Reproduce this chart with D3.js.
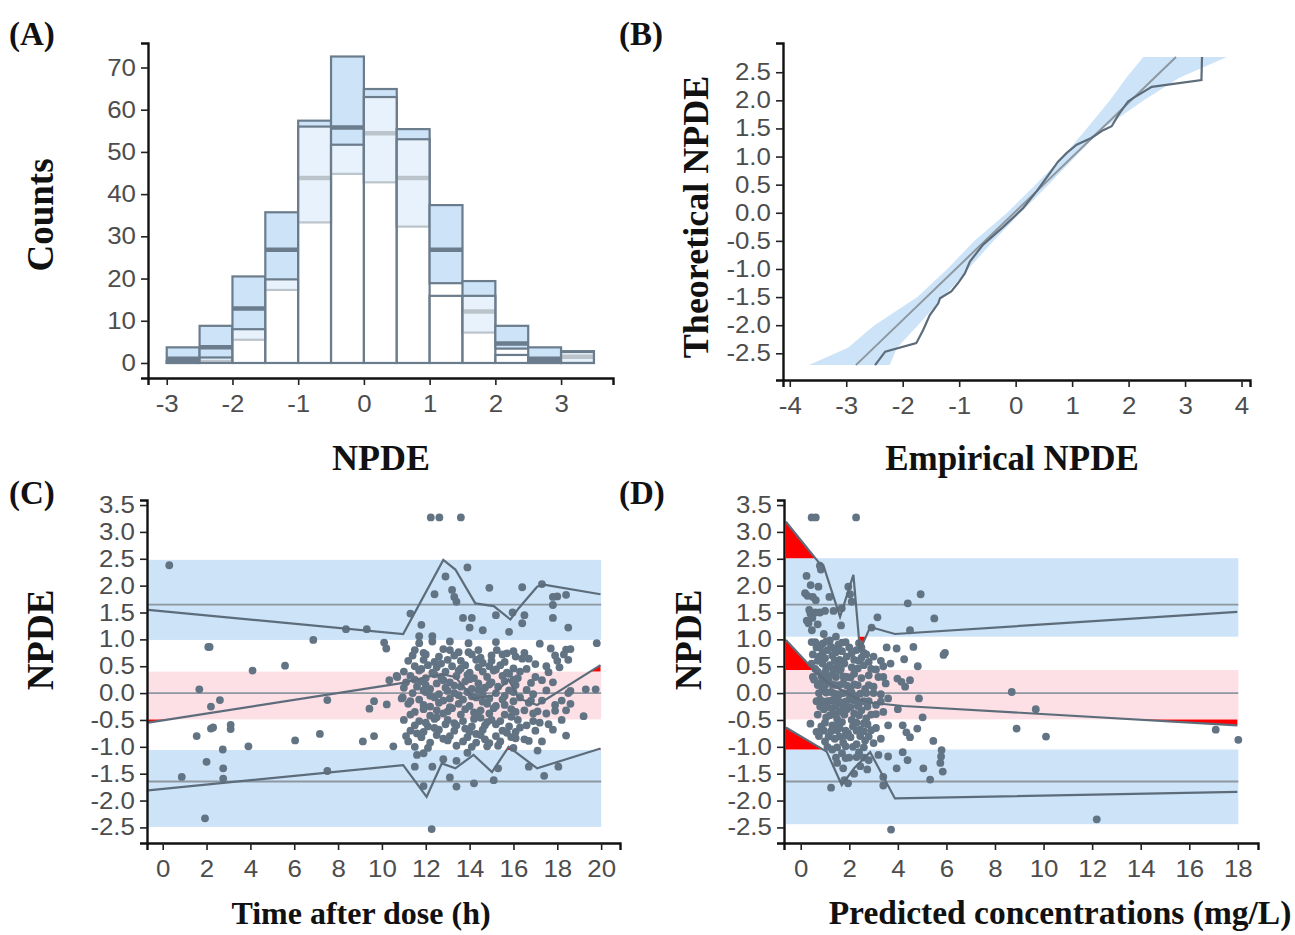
<!DOCTYPE html>
<html>
<head>
<meta charset="utf-8">
<script src="https://d3js.org/d3.v7.min.js"></script>
<style>
body { margin: 0; background: #fff; }
.tick text { font-family: "Liberation Sans", Arial, sans-serif; font-size: 23.5px; fill: #4d4d4d; }
.ttl { font-family: "Liberation Serif", "Times New Roman", serif; font-weight: bold; fill: #111; }
.lab { font-family: "Liberation Serif", "Times New Roman", serif; font-weight: bold; font-size: 33px; fill: #111; }
</style>
</head>
<body>
<svg id="fig" width="1295" height="935"></svg>

<script>
// ---- (A) histogram of npde, observed vs simulated PI ----
var binStart = [-3, -2.5, -2, -1.5, -1, -0.5, 0, 0.5, 1, 1.5, 2, 2.5, 3];
var histObs  = [0.5, 1.3, 8.0, 19.8, 56.0, 51.7, 63.0, 53.0, 15.9, 15.9, 1.9, 0.5, 2.6];
var histLo   = [0, 0.5, 5.5, 17.3, 33.3, 44.8, 42.8, 32.3, 18.9, 7.2, 3.4, 0, 0];
var histMed  = [1.0, 3.7, 12.9, 26.8, 43.8, 55.8, 54.4, 43.8, 26.8, 12.2, 4.6, 1.0, 1.5];
var histHi   = [3.7, 8.8, 20.5, 35.7, 57.4, 72.6, 64.9, 55.4, 37.4, 19.4, 8.8, 3.7, 2.8];
var countTicks = [0, 10, 20, 30, 40, 50, 60, 70];
var npdeTicksA = [-3, -2, -1, 0, 1, 2, 3];

// ---- (B) QQ plot ----
var qqEmpX = [-2.49, -2.31, -1.76, -1.64, -1.52, -1.37, -1.34, -1.14, -1.02, -0.90, -0.81, -0.58, -0.22, 0.13, 0.37, 0.58, 0.75, 0.90, 1.08, 1.34, 1.55, 1.70, 1.82, 1.99, 2.08, 2.41, 3.29, 3.30];
var qqEmpY = [-2.71, -2.47, -2.32, -2.09, -1.82, -1.61, -1.52, -1.40, -1.25, -1.08, -0.87, -0.57, -0.25, 0.08, 0.38, 0.67, 0.91, 1.06, 1.21, 1.33, 1.47, 1.54, 1.74, 1.98, 2.04, 2.24, 2.36, 2.77];
var qqBandY  = [-2.71, -2.4, -2.0, -1.5, -1.0, -0.5, 0, 0.5, 1.0, 1.5, 2.0, 2.4, 2.77];
var qqBandLo = [-3.66, -2.97, -2.50, -1.74, -1.21, -0.73, -0.15, 0.35, 0.84, 1.26, 1.67, 1.96, 2.26];
var qqBandHi = [-2.23, -2.10, -1.73, -1.28, -0.84, -0.39, 0.09, 0.58, 1.06, 1.55, 2.27, 2.90, 3.74];
var qqRefX = [-2.83, 2.84];
var qqRefY = [-2.71, 2.77];
var empTicks = [-4, -3, -2, -1, 0, 1, 2, 3, 4];
var theoTicks = [-2.5, -2, -1.5, -1, -0.5, 0, 0.5, 1, 1.5, 2, 2.5];

// ---- (C) npde vs time ----
var cBands = [[0.99, 2.48], [-0.49, 0.40], [-2.49, -1.06]];
var cBandRange = [-0.66, 20];
var theoPct = [1.645, 0, -1.645];
var cUpperT = [-0.66, 10.97, 12.8, 13.35, 14.26, 15.1, 15.86, 16.24, 17.08, 17.38, 19.97];
var cUpperV = [1.55, 1.10, 2.48, 2.30, 1.67, 1.62, 1.37, 1.58, 1.98, 2.02, 1.84];
var cMedT = [-0.66, 10.97, 12.04, 12.73, 13.35, 14.18, 15.02, 15.78, 16.24, 17.08, 19.97];
var cMedV = [-0.55, 0.19, 0.30, 0.35, 0.30, -0.10, -0.05, 0.25, -0.10, -0.22, 0.52];
var cLowerT = [-0.66, 10.97, 12.04, 12.73, 13.35, 14.18, 15.02, 15.78, 17.08, 19.97];
var cLowerV = [-1.81, -1.34, -1.93, -1.31, -1.40, -1.15, -1.47, -1.00, -1.40, -1.03];
var cPoints = [
  [0.30,2.38],[2.08,0.86],[2.14,0.86],[1.67,0.07],[2.2,-0.25],[2.61,-0.13],[1.55,-0.80],[2.2,-0.66],[2.3,-0.64],
  [3.10,-0.59],[3.10,-0.67],[2.74,-1.05],[2.0,-1.28],[2.76,-1.40],[2.76,-1.59],[0.87,-1.56],[1.93,-2.33],[4.1,0.42],
  [5.58,0.51],[3.91,-0.99],[6.04,-0.88],[6.87,0.99],[7.17,-0.76],[7.51,-0.13],[7.51,-1.45],[8.36,1.19],[9.31,1.19],
  [9.13,-0.90],[9.43,-0.29],[9.64,-0.15],[9.64,-0.80],[10.22,-0.21],[10.1,0.94],[10.2,0.83],[10.34,0.24],[10.67,0.32],
  [10.52,-0.99],[10.95,-0.08],
  [11.7,0.93],[12.3,0.96],[13.1,0.96],[13.95,0.93],[15.2,0.95],[17.2,0.92],[19.8,0.93],
  [11.5,0.80],[12.8,0.82],[13.1,0.80],[13.95,0.76],[14.4,0.80],[15.24,0.80],[16.0,0.78],[17.7,0.83],[18.4,0.81],[18.6,0.82],
  [11.4,0.70],[12.0,0.72],[12.6,0.68],[13.3,0.70],[14.1,0.72],[14.5,0.66],[15.0,0.70],[15.5,0.72],[16.1,0.68],[17.9,0.70],[18.3,0.72],
  [11.2,0.60],[11.9,0.62],[12.4,0.58],[13.0,0.62],[13.6,0.60],[14.3,0.62],[15.0,0.60],[15.6,0.58],[16.4,0.64],[16.7,0.64],[18.0,0.60],[18.5,0.62],
  [11.5,0.50],[12.1,0.52],[12.5,0.48],[13.2,0.50],[13.8,0.52],[14.4,0.48],[14.9,0.50],[15.4,0.52],[16.0,0.46],[17.5,0.50],[18.1,0.48],
  [11.0,0.40],[11.7,0.42],[12.3,0.38],[12.9,0.40],[13.5,0.42],[14.0,0.38],[14.6,0.40],[15.1,0.42],[15.7,0.38],[16.3,0.40],[17.6,0.39],
  [10.7,0.30],[11.3,0.32],[12.0,0.28],[12.7,0.30],[13.4,0.32],[14.2,0.28],[14.8,0.30],[15.5,0.32],[16.2,0.28],[17.0,0.30],
  [11.1,0.20],[11.8,0.22],[12.5,0.18],[13.1,0.20],[13.8,0.22],[14.4,0.18],[15.0,0.20],[15.6,0.22],[16.8,0.19],[17.8,0.20],
  [11.0,0.10],[11.6,0.12],[12.2,0.08],[12.9,0.10],[13.6,0.12],[14.1,0.08],[14.7,0.10],[15.3,0.12],[16.6,0.06],[18.6,0.04],[19.3,0.07],[19.75,0.07],
  [11.4,0.00],[12.0,0.02],[12.6,-0.02],[13.3,0.00],[13.9,0.02],[14.6,-0.02],[15.2,0.00],[16.0,0.02],[16.9,-0.02],[18.5,0.00],
  [10.9,-0.10],[11.7,-0.12],[12.4,-0.08],[13.1,-0.10],[13.7,-0.12],[14.3,-0.08],[14.9,-0.10],[15.5,-0.12],[16.3,-0.08],[17.3,-0.14],[18.2,-0.14],
  [11.2,-0.20],[11.9,-0.22],[12.6,-0.18],[13.5,-0.20],[14.0,-0.24],[14.8,-0.20],[15.6,-0.22],[16.7,-0.18],[17.9,-0.22],[18.6,-0.20],
  [11.9,-0.30],[12.5,-0.32],[13.2,-0.28],[13.8,-0.30],[14.5,-0.32],[15.1,-0.28],[15.9,-0.30],[16.5,-0.32],[17.9,-0.33],[18.4,-0.32],
  [11.3,-0.40],[12.2,-0.42],[12.8,-0.38],[13.6,-0.40],[14.3,-0.42],[14.9,-0.38],[15.6,-0.40],[16.9,-0.38],[17.5,-0.38],[19.2,-0.43],
  [11.0,-0.50],[11.7,-0.52],[12.4,-0.48],[13.0,-0.50],[13.7,-0.52],[14.2,-0.48],[15.0,-0.50],[15.4,-0.52],[16.2,-0.50],[16.9,-0.52],[18.2,-0.50],
  [11.5,-0.60],[12.1,-0.62],[12.9,-0.58],[13.4,-0.60],[14.1,-0.62],[14.7,-0.60],[15.2,-0.58],[15.8,-0.62],[16.6,-0.60],[17.6,-0.58],
  [11.3,-0.70],[11.9,-0.72],[12.6,-0.68],[13.3,-0.70],[14.0,-0.72],[14.6,-0.68],[15.5,-0.70],[16.1,-0.72],[17.0,-0.70],[17.8,-0.68],
  [11.1,-0.80],[11.8,-0.82],[12.5,-0.78],[13.1,-0.80],[13.9,-0.82],[14.5,-0.78],[15.2,-0.80],[15.9,-0.82],[16.5,-0.86],[18.4,-0.79],
  [11.2,-0.90],[12.2,-0.92],[13.0,-0.88],[13.7,-0.90],[14.3,-0.92],[14.9,-0.93],[15.4,-0.90],[16.7,-0.89],[17.3,-0.90],
  [11.5,-1.00],[12.1,-1.02],[13.4,-0.98],[14.1,-1.00],[14.8,-0.99],[15.3,-0.98],[16.0,-1.02],[17.1,-1.07],
  [11.6,-1.15],[11.9,-1.12],[12.8,-1.23],[13.9,-1.11],[11.5,-1.37],[12.3,-1.37],[13.4,-1.26],[15.3,-1.40],[16.7,-1.37],[18.05,-1.37],
  [11.9,-1.73],[13.1,-1.57],[13.4,-1.74],[14.2,-1.68],[15.1,-1.62],[17.4,-1.54],[12.27,-2.53],
  [11.3,1.48],[11.8,1.27],[12.4,1.84],[12.9,2.17],[13.2,1.92],[13.3,1.79],[13.4,1.70],[13.7,1.40],[13.9,2.34],[14.0,1.22],
  [14.1,1.40],[14.6,1.17],[14.9,1.96],[15.2,1.45],[15.8,1.14],[15.96,1.50],[16.4,1.97],[16.4,1.30],[16.5,1.45],[17.3,2.03],
  [17.8,1.79],[18.0,1.80],[18.4,1.83],[17.8,1.64],[17.8,1.40],[18.5,1.22],[12.23,3.27],[12.62,3.27],[13.6,3.27],[11.7,1.06],[12.3,1.06],
  [11.9,0.75],[13.5,0.76],[15.7,0.74],[16.5,0.75],[12.7,0.55],[14.6,0.56],[17.0,0.54],[11.8,0.45],[13.6,0.46],[15.2,0.44],[16.6,0.45],
  [12.4,0.35],[13.9,0.34],[15.8,0.36],[11.5,0.25],[12.8,0.24],[14.0,0.26],[16.0,0.25],[17.3,0.24],[12.0,0.15],[13.3,0.14],[14.9,0.16],
  [16.1,0.15],[11.9,0.05],[13.0,0.04],[14.4,0.06],[15.8,0.05],[17.5,0.05],[12.2,-0.05],[13.5,-0.04],[14.1,-0.06],[15.6,-0.05],
  [11.3,-0.15],[12.8,-0.14],[14.6,-0.16],[16.0,-0.15],[16.8,-0.14],[12.2,-0.25],[13.1,-0.26],[15.2,-0.24],[11.5,-0.35],[13.0,-0.34],
  [14.2,-0.36],[16.1,-0.35],[17.1,-0.34],[12.5,-0.45],[14.5,-0.46],[15.9,-0.44],[12.0,-0.55],[13.3,-0.56],[14.8,-0.54],[17.2,-0.55],
  [12.4,-0.65],[13.8,-0.66],[16.3,-0.64],[11.6,-0.75],[14.3,-0.76],[15.7,-0.74],[12.8,-0.85],[14.7,-0.86],[16.1,-0.84]
];
var timeTicks = [0, 2, 4, 6, 8, 10, 12, 14, 16, 18, 20];
var npdeTicks = [-2.5, -2, -1.5, -1, -0.5, 0, 0.5, 1, 1.5, 2, 2.5, 3, 3.5];

// ---- (D) npde vs predicted concentration ----
var dBands = [[1.05, 2.51], [-0.49, 0.43], [-2.44, -1.05]];
var dBandRange = [-0.61, 18.02];
var dUpperC = [-0.61, 0.8, 0.93, 1.62, 2.17, 2.44, 2.86, 3.88, 17.98];
var dUpperV = [3.19, 2.40, 2.38, 1.42, 2.20, 0.80, 1.23, 1.10, 1.51];
var dMedC = [-0.61, 0.5, 1.1, 1.7, 2.3, 2.9, 4.22, 17.98];
var dMedV = [0.99, 0.45, 0.20, 0.05, -0.10, -0.18, -0.24, -0.60];
var dLowerC = [-0.61, 1.07, 1.69, 2.2, 2.86, 3.88, 17.98];
var dLowerV = [-0.64, -1.09, -1.71, -1.40, -1.10, -1.96, -1.84];
var dPoints = [
  [0.45,3.27],[0.62,3.27],[2.28,3.27],
  [0.79,2.37],[0.83,2.30],[0.24,2.18],[0.41,2.01],[0.73,1.98],[0.18,1.86],[0.28,1.81],[0.62,1.73],[0.50,1.79],[1.18,1.79],
  [1.96,1.98],[2.03,1.84],[2.10,1.70],[1.69,1.58],[0.40,1.48],[0.60,1.50],[0.79,1.50],[0.48,1.40],[0.32,1.30],[0.46,1.17],
  [0.25,1.35],[1.00,1.53],[1.35,1.53],[1.66,1.26],[2.92,1.22],[3.16,1.41],[4.41,1.67],[4.94,1.84],[5.50,1.39],[4.50,1.17],
  [0.35,1.55],[0.70,1.28],[0.95,1.10],[1.45,1.05],
  [0.6,0.95],[0.9,0.92],[1.2,0.98],[1.55,0.90],[1.85,0.95],[2.4,0.93],[0.8,0.85],[1.1,0.80],[1.4,0.82],[1.7,0.78],[2.0,0.85],
  [2.3,0.80],[2.7,0.72],[3.54,0.85],[3.95,0.83],[4.64,0.86],[0.5,0.72],[0.75,0.68],[1.0,0.65],[1.3,0.70],[1.6,0.62],[1.9,0.68],
  [2.2,0.62],[2.5,0.66],[3.0,0.68],[3.3,0.60],[4.26,0.63],[4.82,0.50],[5.88,0.71],[5.94,0.75],[0.45,0.55],[0.9,0.55],[1.2,0.52],
  [1.5,0.50],[1.8,0.55],[2.1,0.48],[2.6,0.52],[2.9,0.45],[3.4,0.50],[3.7,0.55],
  [0.7,0.40],[1.0,0.38],[1.3,0.35],[1.6,0.42],[1.9,0.30],[2.2,0.36],[2.5,0.28],[2.8,0.33],[3.2,0.30],[3.98,0.27],[4.15,0.21],
  [4.3,0.12],[4.5,0.24],[0.55,0.25],[0.85,0.20],[1.15,0.22],[1.45,0.15],[1.75,0.18],[2.05,0.10],[2.35,0.15],[2.65,0.08],
  [3.0,0.12],[3.5,0.18],[8.69,0.02],[0.9,0.05],[1.25,0.02],[1.6,-0.02],[1.95,0.0],[2.3,-0.05],[2.7,0.0],[3.3,-0.02],
  [0.8,-0.12],[1.1,-0.15],[1.4,-0.10],[1.7,-0.18],[2.0,-0.12],[2.4,-0.20],[2.8,-0.15],[3.1,-0.22],[3.6,-0.10],[4.87,-0.10],
  [0.95,-0.30],[1.3,-0.28],[1.6,-0.35],[1.9,-0.30],[2.2,-0.38],[2.5,-0.32],[2.9,-0.40],[3.4,-0.35],[4.0,-0.30],[5.02,-0.45],
  [9.68,-0.30],[1.05,-0.45],[1.5,-0.48],[2.1,-0.50],[2.7,-0.47],
  [0.4,-0.57],[0.85,-0.62],[1.15,-0.81],[0.65,-0.72],[1.3,-0.60],[1.6,-0.65],[1.85,-0.70],[2.15,-0.62],[2.45,-0.68],[2.75,-0.58],
  [3.1,-0.65],[3.6,-0.60],[4.2,-0.60],[4.35,-0.73],[4.5,-0.82],[4.8,-0.66],[8.89,-0.66],[10.1,-0.81],[17.09,-0.68],[18.02,-0.87],
  [1.0,-0.90],[1.4,-0.85],[1.75,-0.92],[2.05,-0.82],[2.3,-0.95],[2.65,-0.88],[3.0,-0.93],[3.3,-0.85],[5.46,-0.89],[1.95,-0.75],
  [1.3,-1.05],[1.7,-1.12],[2.0,-1.20],[2.4,-1.10],[2.8,-1.25],[3.2,-1.15],[3.6,-1.18],[3.95,-1.40],[4.4,-1.25],[4.2,-1.10],
  [5.05,-1.40],[5.33,-1.61],[5.8,-1.06],[5.78,-1.18],[5.75,-1.30],[5.85,-1.46],[3.4,-1.56],[3.4,-1.72],[2.74,-1.42],[2.45,-1.36],
  [1.8,-1.62],[1.95,-1.68],[1.75,-1.40],[1.25,-1.76],[1.5,-1.30],[2.2,-1.50],
  [12.19,-2.35],[3.72,-2.54],
  [0.45,0.95],[1.05,0.96],[1.7,0.94],[0.65,0.85],[1.25,0.86],[1.55,0.84],[2.5,0.85],[0.9,0.75],[1.45,0.76],[2.1,0.74],[2.6,0.75],
  [0.7,0.60],[1.4,0.61],[1.75,0.59],[2.4,0.60],[2.8,0.58],[0.6,0.45],[1.05,0.46],[1.35,0.44],[1.65,0.45],[2.35,0.46],[3.1,0.44],
  [0.5,0.30],[0.85,0.31],[1.15,0.29],[1.45,0.30],[1.75,0.31],[2.05,0.29],[3.4,0.30],[0.7,0.15],[1.0,0.14],[1.3,0.16],[1.6,0.15],
  [1.9,0.14],[2.2,0.16],[2.8,0.15],[0.75,0.0],[1.05,0.01],[1.4,-0.01],[1.75,0.0],[2.1,0.01],[2.45,-0.01],[3.0,0.0],
  [0.65,-0.15],[0.95,-0.16],[1.25,-0.14],[1.55,-0.15],[1.85,-0.16],[2.2,-0.14],[2.6,-0.15],[3.3,-0.16],[0.8,-0.25],[1.1,-0.26],
  [1.45,-0.24],[1.75,-0.25],[2.05,-0.26],[2.35,-0.24],[2.75,-0.25],[0.7,-0.40],[1.2,-0.41],[1.35,-0.39],[1.8,-0.40],[2.4,-0.41],
  [3.1,-0.39],[1.0,-0.55],[1.55,-0.56],[1.7,-0.54],[2.3,-0.55],[2.6,-0.56],[0.95,-0.70],[1.25,-0.71],[1.5,-0.69],[2.3,-0.70],
  [2.6,-0.71],[2.9,-0.69],[0.75,-0.80],[1.6,-0.81],[1.85,-0.79],[2.45,-0.80],[2.8,-0.81],[1.1,-1.00],[1.5,-1.01],[1.85,-0.99],
  [2.15,-1.00],[2.6,-1.01],[1.45,-1.20],[1.85,-1.21],[2.3,-1.19],[2.6,-1.20]
];
var concTicks = [0, 2, 4, 6, 8, 10, 12, 14, 16, 18];

var edge = "#6b7c8c", dark = "#5d6c7a", refGrey = "#8d979f";
var blue = "#cce3f8", pink = "#fde0e6";

var svg = d3.select("#fig");

function axes(g, x, y, xt, yt, yfmt) {
  var ax = g.append("g").attr("transform", "translate(0," + y.range()[0] + ")")
    .call(d3.axisBottom(x).tickValues(xt).tickSizeOuter(0).tickSize(7).tickPadding(6).tickFormat(d => String(d)));
  var ay = g.append("g").attr("transform", "translate(" + x.range()[0] + ",0)")
    .call(d3.axisLeft(y).tickValues(yt).tickSizeOuter(0).tickSize(7).tickPadding(4).tickFormat(yfmt));
  [ax, ay].forEach(function(a) {
    a.select(".domain").attr("stroke", "#111").attr("stroke-width", 2.4);
    a.selectAll(".tick line").attr("stroke", "#222").attr("stroke-width", 1.6);
    a.selectAll(".tick text").attr("transform", "scale(1.1,1)");
  });
  ax.selectAll(".tick text").attr("dy", "0.9em");
}

function title(txt, x, y, rot, size) {
  svg.append("text").attr("class", "ttl").attr("text-anchor", "middle")
    .style("font-size", size + "px")
    .attr("transform", "translate(" + x + "," + y + ")" + (rot ? " rotate(-90)" : ""))
    .text(txt);
}

// clamp a polyline to one side of a band edge, adding the crossing points
function beyond(data, lim, above) {
  var out = [];
  data.forEach(function(p, i) {
    if (i > 0) {
      var q = data[i - 1];
      if ((q[1] - lim) * (p[1] - lim) < 0) {
        var t = (lim - q[1]) / (p[1] - q[1]);
        out.push([q[0] + t * (p[0] - q[0]), lim]);
      }
    }
    out.push([p[0], above ? Math.max(p[1], lim) : Math.min(p[1], lim)]);
  });
  return out;
}

// ================= A =================
var xA = d3.scaleLinear().domain([-3.285, 3.79]).range([148, 613]);
var yA = d3.scaleLinear().domain([-3.56, 75.8]).range([378, 43]);
var gA = svg.append("g");

binStart.forEach(function(b, i) {
  gA.append("rect")
    .attr("x", xA(b)).attr("width", xA(b + 0.5) - xA(b))
    .attr("y", yA(histHi[i])).attr("height", yA(histLo[i]) - yA(histHi[i]))
    .attr("fill", blue).attr("stroke", edge).attr("stroke-width", 2.2);
  gA.append("line")
    .attr("x1", xA(b)).attr("x2", xA(b + 0.5))
    .attr("y1", yA(histMed[i])).attr("y2", yA(histMed[i]))
    .attr("stroke", edge).attr("stroke-width", 4.5);
  gA.append("rect")
    .attr("x", xA(b)).attr("width", xA(b + 0.5) - xA(b))
    .attr("y", yA(histObs[i])).attr("height", yA(0) - yA(histObs[i]))
    .attr("fill", "#fff").attr("fill-opacity", 0.55)
    .attr("stroke", edge).attr("stroke-width", 2.2);
});
axes(gA, xA, yA, npdeTicksA, countTicks, d => String(d));

// ================= B =================
var xB = d3.scaleLinear().domain([-4.12, 4.15]).range([783, 1250]);
var yB = d3.scaleLinear().domain([-2.975, 3.02]).range([380, 43]);
var gB = svg.append("g");

gB.append("path")
  .datum(qqBandY.map((v, i) => [qqBandLo[i], qqBandHi[i], v]))
  .attr("d", d3.area().x0(d => xB(d[0])).x1(d => xB(d[1])).y(d => yB(d[2])))
  .attr("fill", blue);
gB.append("path")
  .datum(qqRefX.map((v, i) => [v, qqRefY[i]]))
  .attr("d", d3.line().x(d => xB(d[0])).y(d => yB(d[1])))
  .attr("fill", "none").attr("stroke", refGrey).attr("stroke-width", 2);
gB.append("path")
  .datum(qqEmpX.map((v, i) => [v, qqEmpY[i]]))
  .attr("d", d3.line().x(d => xB(d[0])).y(d => yB(d[1])))
  .attr("fill", "none").attr("stroke", dark).attr("stroke-width", 2.2);
axes(gB, xB, yB, empTicks, theoTicks, d => d.toFixed(1));

// ================= C & D =================
function scatterPanel(g, x, y, bands, bandRange, lines, pts) {
  var bx0 = x(bandRange[0]), bx1 = x(bandRange[1]);
  bands.forEach(function(b) {
    g.append("rect").attr("x", bx0).attr("width", bx1 - bx0)
      .attr("y", y(b[1])).attr("height", y(b[0]) - y(b[1]))
      .attr("fill", b[0] < 0 && b[1] > 0 ? pink : blue);
  });
  theoPct.forEach(function(p) {
    g.append("line").attr("x1", bx0).attr("x2", bx1).attr("y1", y(p)).attr("y2", y(p))
      .attr("stroke", refGrey).attr("stroke-width", 1.8);
  });
  // red where the observed percentile leaves its band
  lines.forEach(function(l, k) {
    var data = l[0].map((v, i) => [v, l[1][i]]);
    var b = bands[k];
    g.append("path").datum(beyond(data, b[1], true))
      .attr("d", d3.area().x(d => x(d[0])).y0(y(b[1])).y1(d => y(d[1]))).attr("fill", "#ff0000");
    g.append("path").datum(beyond(data, b[0], false))
      .attr("d", d3.area().x(d => x(d[0])).y0(y(b[0])).y1(d => y(d[1]))).attr("fill", "#ff0000");
  });
  g.selectAll("circle").data(pts).enter().append("circle")
    .attr("cx", d => x(d[0])).attr("cy", d => y(d[1])).attr("r", 3.9)
    .attr("fill", "#627484");
  lines.forEach(function(l) {
    g.append("path").datum(l[0].map((v, i) => [v, l[1][i]]))
      .attr("d", d3.line().x(d => x(d[0])).y(d => y(d[1])))
      .attr("fill", "none").attr("stroke", dark).attr("stroke-width", 2.2);
  });
}

var xC = d3.scaleLinear().domain([-0.716, 20.86]).range([147, 620]);
var yC = d3.scaleLinear().domain([-2.79, 3.594]).range([843, 500]);
var gC = svg.append("g");
scatterPanel(gC, xC, yC, cBands, cBandRange, [[cUpperT, cUpperV], [cMedT, cMedV], [cLowerT, cLowerV]], cPoints);
axes(gC, xC, yC, timeTicks, npdeTicks, d => d.toFixed(1));

var xD = d3.scaleLinear().domain([-0.688, 18.83]).range([784, 1258]);
var yD = d3.scaleLinear().domain([-2.79, 3.594]).range([843, 500]);
var gD = svg.append("g");
scatterPanel(gD, xD, yD, dBands, dBandRange, [[dUpperC, dUpperV], [dMedC, dMedV], [dLowerC, dLowerV]], dPoints);
axes(gD, xD, yD, concTicks, npdeTicks, d => d.toFixed(1));

// titles and panel letters
title("Counts", 53, 215, true, 37);
title("Theoretical NPDE", 708, 217, true, 36);
title("NPDE", 53, 640, true, 37);
title("NPDE", 701, 640, true, 37);
title("NPDE", 381, 470, false, 36);
title("Empirical NPDE", 1012, 470, false, 35);
title("Time after dose (h)", 361, 924, false, 32);
title("Predicted concentrations (mg/L)", 1060, 924, false, 33.5);

[["(A)", 9, 45], ["(B)", 619, 45], ["(C)", 9, 504], ["(D)", 619, 504]].forEach(function(p) {
  svg.append("text").attr("class", "lab").attr("x", p[1]).attr("y", p[2]).text(p[0]);
});
</script>
</body>
</html>
